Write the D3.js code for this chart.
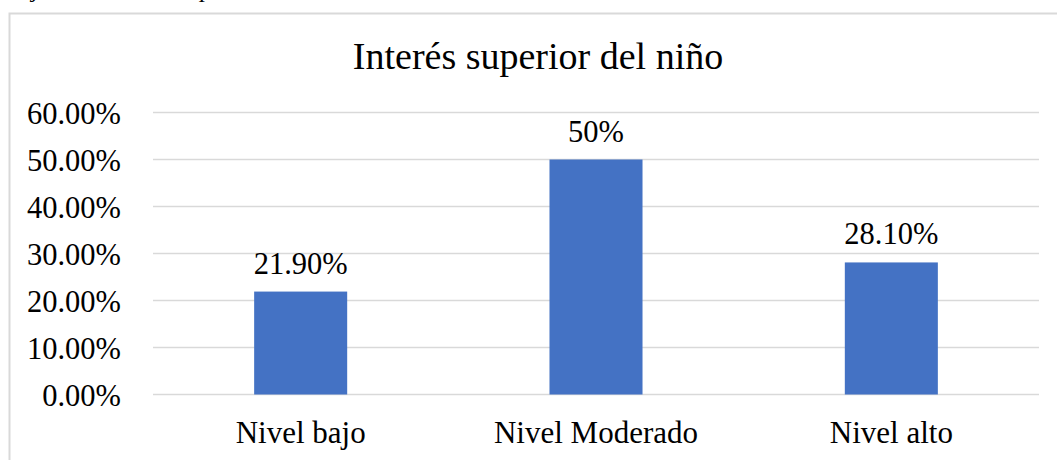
<!DOCTYPE html>
<html><head><meta charset="utf-8">
<script src="https://cdn.jsdelivr.net/npm/d3@7"></script>
<style>body{margin:0;background:#fff}svg{display:block}</style>
</head><body>
<script>
const categories = ["Nivel bajo", "Nivel Moderado", "Nivel alto"];
const values = [21.9, 50, 28.1];
const valueLabels = ["21.90%", "50%", "28.10%"];
const yTicks = [0, 10, 20, 30, 40, 50, 60];
const title = "Interés superior del niño";
const caption = "Objetivo: Interés superior del niño";

const FONT = "'Liberation Serif', Tinos, 'Times New Roman', Times, 'DejaVu Serif', serif";
const W = 1057, H = 460;
const svg = d3.select("body").append("svg").attr("width", W).attr("height", H)
  .style("font-family", FONT);

// cut-off caption at top
svg.append("text").attr("x", 2).attr("y", -3).attr("font-style", "italic")
  .attr("font-size", 25).style("font-family", FONT).text(caption);

// chart border
svg.append("rect").attr("x", 9.5).attr("y", 13.5).attr("width", 1100).attr("height", 500)
  .attr("fill", "none").attr("stroke", "#d9d9d9").attr("stroke-width", 2);

const plotLeft = 153, plotRight = 1039, plotTop = 112.5, plotBottom = 394.5;
const x = d3.scaleBand().domain(categories).range([plotLeft, plotRight]).paddingInner(0.685).paddingOuter(0.3425);
const y = d3.scaleLinear().domain([0, 60]).range([plotBottom, plotTop]);

// gridlines
svg.append("g").selectAll("line").data(yTicks).join("line")
  .attr("x1", plotLeft).attr("x2", plotRight)
  .attr("y1", d => y(d)).attr("y2", d => y(d))
  .attr("stroke", "#d9d9d9").attr("stroke-width", 1.5);

// y axis labels
const yAxis = d3.axisLeft(y).tickValues(yTicks).tickSize(0).tickPadding(0)
  .tickFormat(d => d3.format(".2f")(d) + "%");
const gy = svg.append("g").attr("transform", "translate(121,0)").call(yAxis);
gy.attr("font-family", null);
gy.select(".domain").remove();
gy.selectAll("text").attr("font-size", 30.5).attr("dy", null)
  .attr("y", 11).style("font-family", FONT).attr("fill", "#000");

// bars
svg.append("g").selectAll("rect").data(values).join("rect")
  .attr("x", (d, i) => x(categories[i])).attr("width", x.bandwidth())
  .attr("y", d => y(d)).attr("height", d => y(0) - y(d))
  .attr("fill", "#4472C4");

// value labels
svg.append("g").selectAll("text").data(values).join("text")
  .attr("x", (d, i) => x(categories[i]) + x.bandwidth() / 2)
  .attr("y", d => y(d) - 18).attr("text-anchor", "middle").attr("font-size", 30.5)
  .style("font-family", FONT)
  .text((d, i) => valueLabels[i]);

// x axis labels
const xAxis = d3.axisBottom(x).tickSize(0).tickPadding(0);
const gx = svg.append("g").attr("transform", `translate(0,${plotBottom})`).call(xAxis);
gx.attr("font-family", null);
gx.select(".domain").remove();
gx.selectAll("text").attr("font-size", 31).attr("dy", null).attr("y", 48.5)
  .style("font-family", FONT).attr("fill", "#000");

// title
svg.append("text").attr("x", (plotLeft + plotRight) / 2 - 58).attr("y", 69).attr("text-anchor", "middle")
  .attr("font-size", 38).style("font-family", FONT).text(title);
</script>
</body></html>
